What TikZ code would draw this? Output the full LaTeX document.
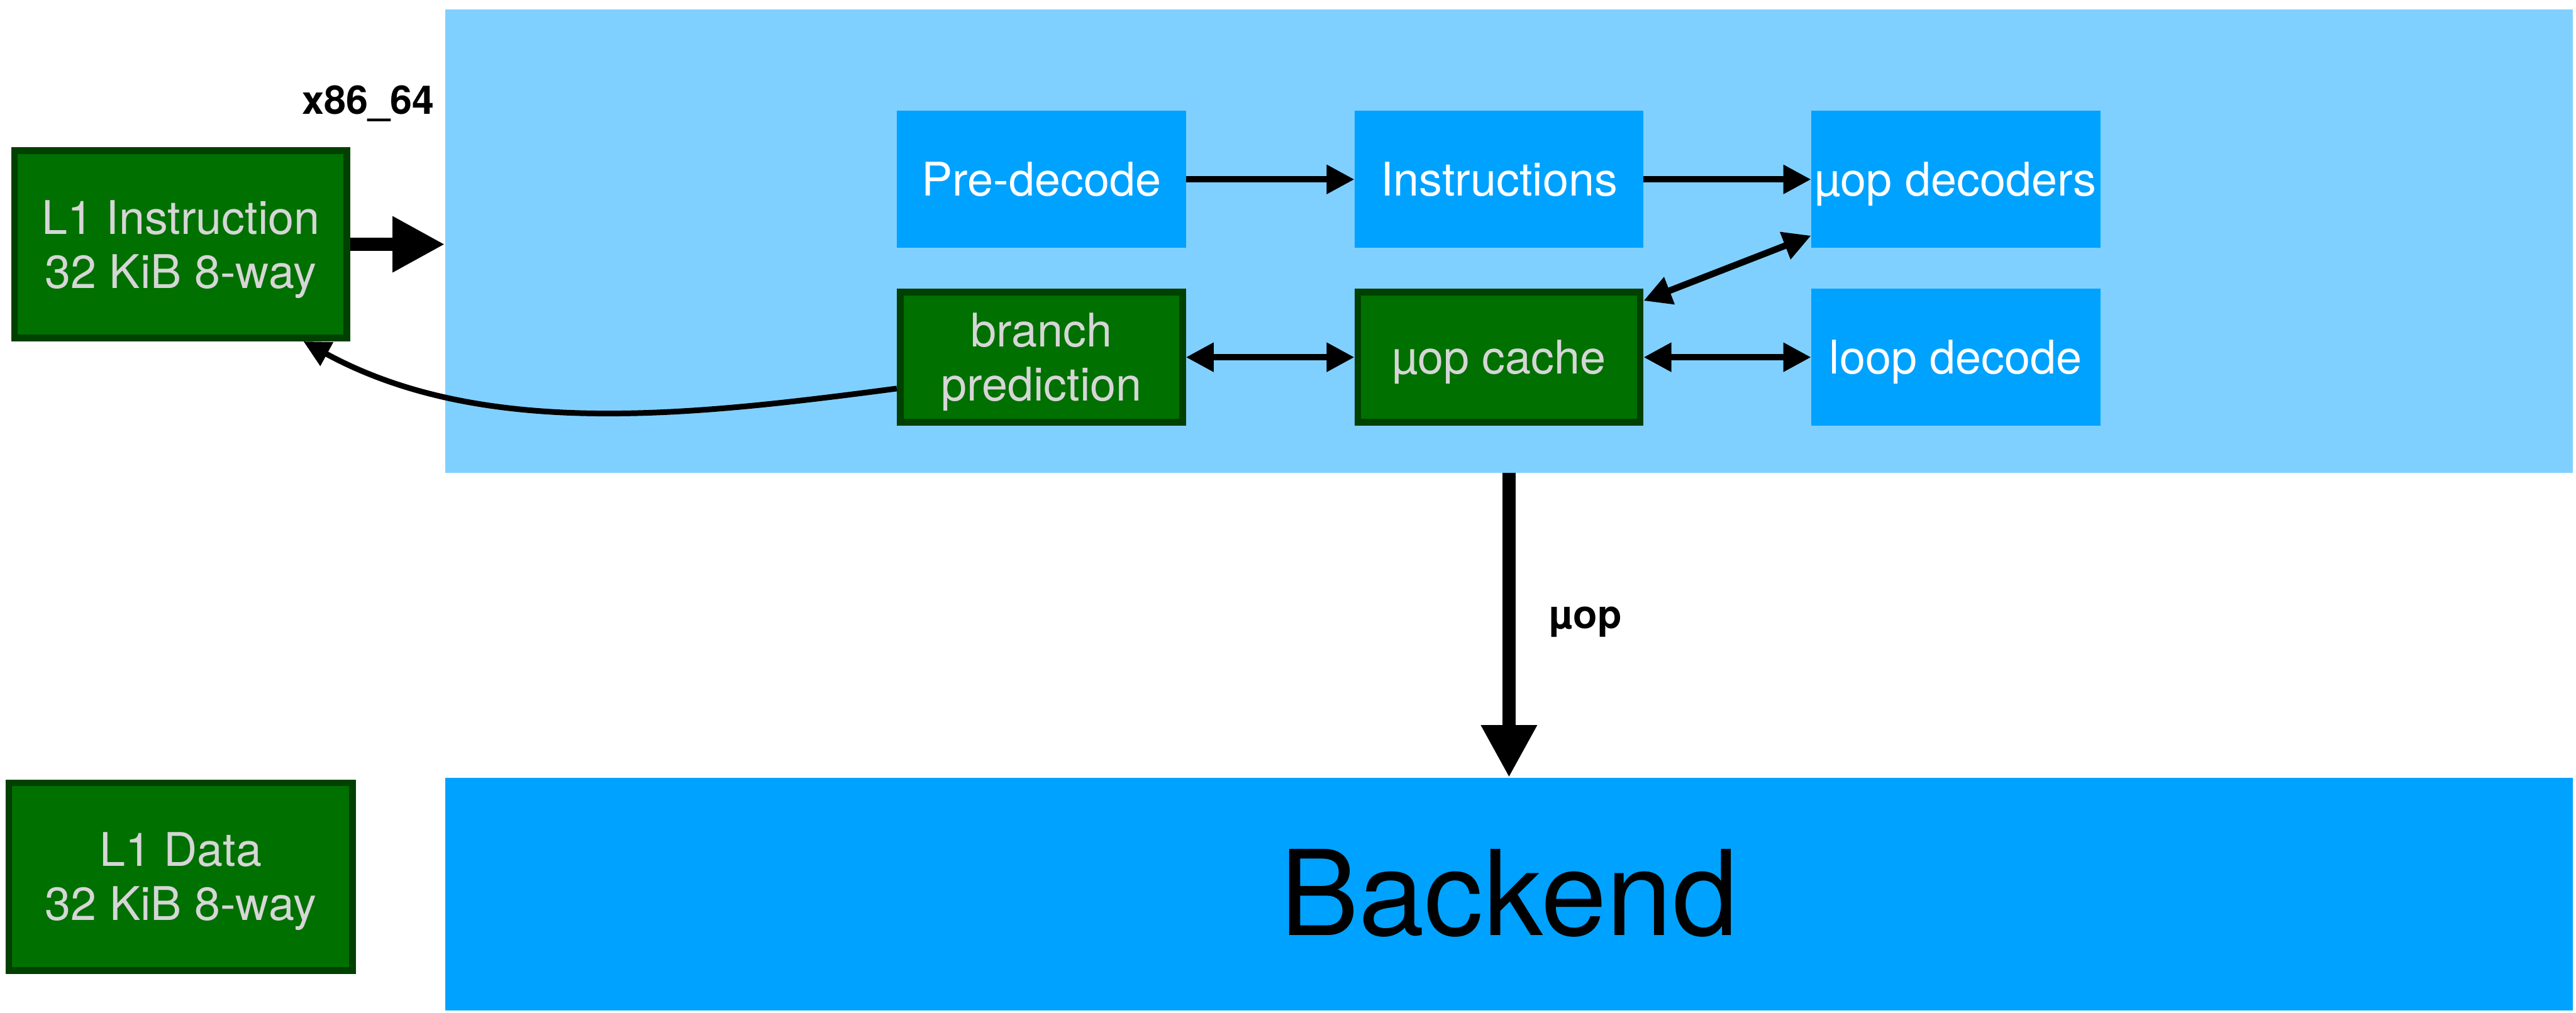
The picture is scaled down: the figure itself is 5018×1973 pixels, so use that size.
\documentclass[tikz,border=0pt]{standalone}
\usepackage{fontspec}
\setmainfont{TeX Gyre Heros}
\usetikzlibrary{arrows.meta,calc}

\definecolor{frontbg}{RGB}{128,208,255}
\definecolor{unitblue}{RGB}{0,162,255}
\definecolor{cachegreen}{RGB}{0,112,0}
\definecolor{cacheedge}{RGB}{0,64,0}
\definecolor{cachetext}{RGB}{214,214,214}

% taller first line so two-line labels sit a little lower in their boxes
\newcommand{\firststrut}{\rule{0pt}{0.85cm}}

\begin{document}
\begin{tikzpicture}[x=0.01cm, y=-0.01cm,
  boxfont/.style={font=\fontsize{25.7pt}{29.9pt}\selectfont},
  unit/.style={boxfont, fill=unitblue, text=white, inner sep=0pt, outer sep=0pt,
    minimum width=5.63cm, minimum height=2.67cm, text height=0.65cm, text depth=0pt},
  cache/.style={boxfont, fill=cachegreen, draw=cacheedge, line width=0.13cm,
    text=cachetext, inner sep=0pt, align=center},
  cacheunit/.style={cache, minimum width=5.50cm, minimum height=2.53cm},
  l1box/.style={cache, minimum height=3.65cm},
  flow/.style={line width=0.127cm, -{Triangle[length=0.54cm,width=0.54cm]}},
  flowboth/.style={line width=0.127cm,
    {Triangle[length=0.54cm,width=0.54cm]}-{Triangle[length=0.54cm,width=0.54cm]}},
  bigflow/.style={line width=0.265cm, -{Triangle[length=1.02cm,width=1.02cm]}},
  feedback/.style={line width=0.11cm, -{Triangle[length=0.52cm,width=0.50cm]}},
  tag/.style={font=\fontsize{21.9pt}{26pt}\selectfont\bfseries, inner sep=0pt}
]
\useasboundingbox (0,0) rectangle (5018,1973);
\fill[white] (0,0) rectangle (5018,1973);

% frontend and backend areas
\node[fill=frontbg, inner sep=0pt, outer sep=0pt,
      minimum width=41.43cm, minimum height=9.02cm] (front) at (2939.5,470) {};
\node[fill=unitblue, inner sep=0pt, outer sep=0pt,
      minimum width=41.43cm, minimum height=4.53cm,
      font=\fontsize{65.5pt}{78pt}\selectfont, text height=1.62cm, text depth=0pt]
      (back) at (2939.5,1741.5) {Backend};

% L1 caches
\node[l1box, minimum width=6.47cm] (l1i) at (352,476) {\firststrut L1 Instruction\\32 KiB 8-way};
\node[l1box, minimum width=6.69cm] (l1d) at (352,1708) {\firststrut L1 Data\\32 KiB 8-way};

% frontend units, top row
\node[unit] (pd) at (2028.5,349.5) {Pre-decode};
\node[unit] (ins) at (2920,349.5) {Instructions};
\node[unit] (ud) at (3809.5,349.5) {µop decoders};

% frontend units, bottom row
\node[cacheunit] (bp) at (2028.5,696) {\firststrut branch\\prediction};
\node[cacheunit, text height=0.65cm, text depth=0pt] (uc) at (2920,696) {µop cache};
\node[unit] (ld) at (3809.5,696) {loop decode};

% labels
\node[tag, anchor=base east] (isa) at (846,222) {x86\_64};
\node[tag, anchor=base west] (uoplbl) at (3017,1225) {µop};

% connectors
\draw[bigflow] (l1i.east) -- (l1i.east -| front.west);
\draw[bigflow] (front.south) -- (back.north);
\draw[flow] (pd) -- (ins);
\draw[flow] (ins) -- (ud);
\draw[flowboth] (bp) -- (uc);
\draw[flowboth] (uc) -- (ld);
\draw[flowboth] ($(uc.north east)+(0,23)$) -- ($(ud.south west)+(0,-24)$);
\draw[feedback] ($(bp.west)+(0,61)$) .. controls (1351,809) and (943,857) .. ($(l1i.south)+(239,0)$);
\end{tikzpicture}
\end{document}
